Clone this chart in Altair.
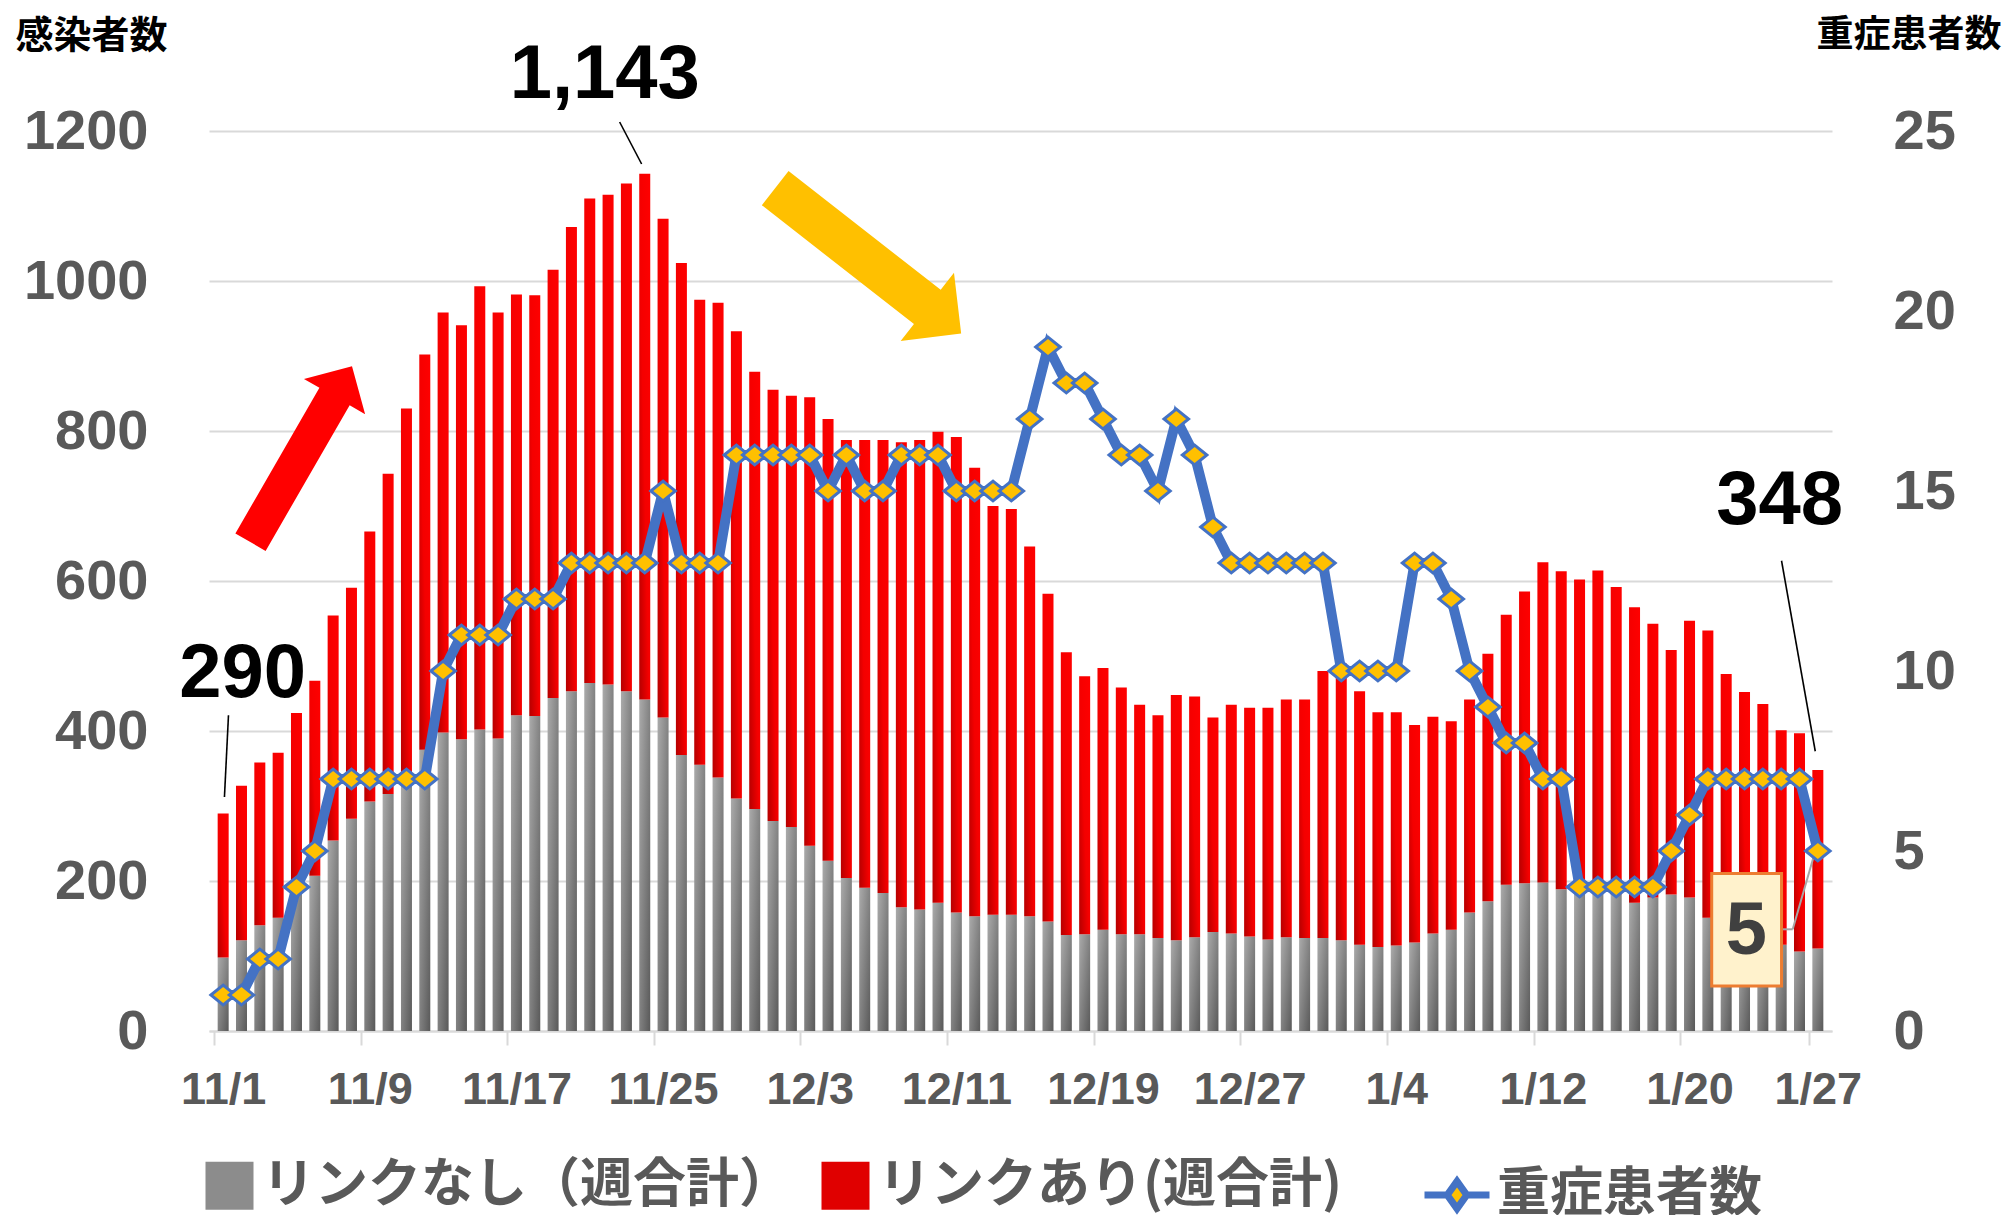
import altair as alt
import pandas as pd

# ---------------- data ----------------
dates = pd.date_range("2020-11-01", "2021-01-27", freq="D")
date_labels = [f"{d.month}/{d.day}" for d in dates]

# リンクなし (weekly total) – gray segment
no_link = [98, 121, 141, 151, 195, 207, 254, 283, 306, 316,
           330, 375, 398, 389, 402, 390, 421, 420, 444, 453,
           464, 462, 453, 442, 418, 368, 355, 338, 310, 296,
           280, 272, 247, 227, 204, 191, 184, 165, 162, 171,
           158, 153, 155, 155, 153, 146, 128, 129, 135, 129,
           129, 124, 121, 125, 132, 130, 126, 122, 125, 124,
           124, 121, 115, 112, 114, 118, 130, 135, 158, 173,
           195, 197, 198, 189, 188, 186, 182, 171, 178, 182,
           178, 151, 140, 125, 115, 115, 106, 110]

# total weekly infections (リンクなし + リンクあり)
totals = [290, 327, 358, 371, 424, 467, 554, 591, 666, 743,
          830, 902, 958, 941, 993, 958, 982, 981, 1015, 1072,
          1110, 1115, 1130, 1143, 1083, 1024, 975, 971, 933, 879,
          855, 847, 845, 816, 788, 788, 788, 785, 788, 799,
          792, 751, 700, 696, 646, 583, 505, 473, 484, 458,
          435, 421, 448, 446, 418, 435, 431, 431, 442, 442,
          480, 490, 453, 425, 425, 408, 419, 413, 442, 503,
          555, 586, 625, 613, 602, 614, 592, 565, 543, 508,
          547, 534, 476, 452, 436, 401, 397, 348]

# 重症患者数
severe = [1, 1, 2, 2, 4, 5, 7, 7, 7, 7,
          7, 7, 10, 11, 11, 11, 12, 12, 12, 13,
          13, 13, 13, 13, 15, 13, 13, 13, 16, 16,
          16, 16, 16, 15, 16, 15, 15, 16, 16, 16,
          15, 15, 15, 15, 17, 19, 18, 18, 17, 16,
          16, 15, 17, 16, 14, 13, 13, 13, 13, 13,
          13, 10, 10, 10, 10, 13, 13, 12, 10, 9,
          8, 8, 7, 7, 4, 4, 4, 4, 4, 5,
          6, 7, 7, 7, 7, 7, 7, 5]

tick_idx = [0, 8, 16, 24, 32, 40, 48, 56, 64, 72, 80, 87]
left_ticks = [0, 200, 400, 600, 800, 1000, 1200]
right_ticks = [0, 5, 10, 15, 20, 25]

bar_series = ["リンクなし（週合計）", "リンクあり(週合計)"]
line_series = ["重症患者数"]

# annotation labels (x in day-index units, y in left-axis units)
ann_text = ["290", "1,143", "348"]
ann_x = [1.06, 20.82, 84.92]
ann_y = [476, 1275, 707]

lead_x = [0.29, 21.63, 85.02]
lead_x2 = [0.07, 22.83, 86.86]
lead_y = [421, 1212, 627]
lead_y2 = [312, 1156, 373]

box_text = ["5"]
box_x, box_x2, box_y, box_y2 = [81.21], [85.02], [210], [60]
box_tx, box_ty = [83.1], [132]
box_lead_x = [85.02, 85.63]
box_lead_x2 = [85.63, 86.86]
box_lead_y = [135.6, 135.6]
box_lead_y2 = [135.6, 240]

arrow_x = [4.26, 35.19]
arrow_y = [769, 1027]
arrow_color = ["#FF0000", "#FFC000"]

df = pd.DataFrame({"i": list(range(len(date_labels))), "label": date_labels,
                   "nolink": no_link, "total": totals, "severe": severe})
df["zero"] = 0

# ---------------- styling ----------------
N = len(date_labels)
W, H = 1623, 900
px_per_day = W / N


def yls():
    return alt.Scale(domain=[0, 1200], nice=False)


def yrs():
    return alt.Scale(domain=[0, 25], nice=False)


label_expr = "timeFormat(datetime(2020, 10, 1 + datum.value), '%-m/%-d')"

x_axis = alt.Axis(values=tick_idx, labelExpr=label_expr, title=None, grid=False,
                  domainColor="#d9d9d9", domainWidth=2,
                  tickColor="#d9d9d9", tickWidth=2, tickSize=14,
                  tickOffset=-px_per_day / 2, labelOffset=px_per_day / 2,
                  labelFont="Liberation Sans", labelFontWeight="bold",
                  labelFontSize=45, labelColor="#595959", labelPadding=22,
                  labelOverlap=False, labelFlush=False)


def X(field):
    # every layer shares the same x scale and the same axis definition
    return alt.X(field, scale=alt.Scale(domain=[-0.5, N - 0.5], nice=False, zero=False),
                 axis=x_axis)


left_axis = alt.Axis(values=left_ticks, orient="left", title="感染者数", format="d",
                     grid=True, gridColor="#d9d9d9", gridWidth=2,
                     domain=False, ticks=False,
                     labelFont="Liberation Sans", labelFontWeight="bold",
                     labelFontSize=56, labelColor="#595959", labelPadding=61,
                     titleAngle=0, titleAlign="left", titleBaseline="top",
                     titleX=-194, titleY=-114, titleFont="Noto Sans CJK JP",
                     titleFontSize=38, titleFontWeight="bold", titleColor="#000000")

right_axis = alt.Axis(values=right_ticks, orient="right", title="重症患者数", format="d",
                      grid=False, domain=False, ticks=False,
                      labelFont="Liberation Sans", labelFontWeight="bold",
                      labelFontSize=56, labelColor="#595959", labelPadding=61,
                      titleAngle=0, titleAlign="left", titleBaseline="top",
                      titleX=-16, titleY=-114, titleFont="Noto Sans CJK JP",
                      titleFontSize=37, titleFontWeight="bold", titleColor="#000000")

gray_grad = alt.Gradient(gradient="linear", x1=0, y1=0, x2=1, y2=1,
                         stops=[alt.GradientStop(offset=0, color="#ababab"),
                                alt.GradientStop(offset=1, color="#595959")])
red_grad = alt.Gradient(gradient="linear", x1=1, y1=0, x2=0, y2=1,
                        stops=[alt.GradientStop(offset=0, color="#ff0000"),
                               alt.GradientStop(offset=0.55, color="#f40000"),
                               alt.GradientStop(offset=1, color="#b50000")])

base = alt.Chart(df)

gray_bars = base.mark_bar(size=11, color=gray_grad).encode(
    x=X("i:Q"),
    y=alt.Y("nolink:Q", scale=yls(), axis=left_axis),
    y2="zero:Q",
)
red_bars = base.mark_bar(size=11, color=red_grad).encode(
    x=X("i:Q"),
    y=alt.Y("nolink:Q", scale=yls(), axis=None),
    y2="total:Q",
)

arrow_df = pd.DataFrame({"x": arrow_x, "y": arrow_y})
red_arrow = alt.Chart(arrow_df.iloc[[0]]).mark_point(
    shape="M-1,-0.172L0.656,-0.172L0.656,-0.348L1,0L0.656,0.348L0.656,0.172L-1,0.172Z",
    filled=True, color=arrow_color[0], opacity=1, size=203 ** 2, angle=300, strokeWidth=0,
).encode(x=X("x:Q"), y=alt.Y("y:Q", scale=yls(), axis=None))
yel_arrow = alt.Chart(arrow_df.iloc[[1]]).mark_point(
    shape="M-1,-0.184L0.636,-0.184L0.636,-0.367L1,0L0.636,0.367L0.636,0.184L-1,0.184Z",
    filled=True, color=arrow_color[1], opacity=1, size=236 ** 2, angle=38, strokeWidth=0,
).encode(x=X("x:Q"), y=alt.Y("y:Q", scale=yls(), axis=None))

lead_df = pd.DataFrame({"x": lead_x, "x2": lead_x2, "y": lead_y, "y2": lead_y2})
leaders = alt.Chart(lead_df).mark_rule(color="#000000", strokeWidth=1.6).encode(
    x=X("x:Q"), x2="x2:Q",
    y=alt.Y("y:Q", scale=yls(), axis=None), y2="y2:Q")

ann_df = pd.DataFrame({"x": ann_x, "y": ann_y, "t": ann_text})
ann = alt.Chart(ann_df).mark_text(font="Liberation Sans", fontWeight="bold", fontSize=76,
                                  color="#000000", align="center", baseline="middle").encode(
    x=X("x:Q"), y=alt.Y("y:Q", scale=yls(), axis=None), text="t:N")

box_df = pd.DataFrame({"x": box_x, "x2": box_x2, "y": box_y, "y2": box_y2})
box = alt.Chart(box_df).mark_rect(fill="#FFF2CC", stroke="#ED7D31", strokeWidth=3).encode(
    x=X("x:Q"), x2="x2:Q",
    y=alt.Y("y:Q", scale=yls(), axis=None), y2="y2:Q")
blead_df = pd.DataFrame({"x": box_lead_x, "x2": box_lead_x2, "y": box_lead_y, "y2": box_lead_y2})
box_lead = alt.Chart(blead_df).mark_rule(color="#a6a6a6", strokeWidth=2).encode(
    x=X("x:Q"), x2="x2:Q",
    y=alt.Y("y:Q", scale=yls(), axis=None), y2="y2:Q")
btext_df = pd.DataFrame({"x": box_tx, "y": box_ty, "t": box_text})
box_txt = alt.Chart(btext_df).mark_text(font="Liberation Sans", fontWeight="bold", fontSize=74,
                                        color="#404040", align="center", baseline="middle").encode(
    x=X("x:Q"), y=alt.Y("y:Q", scale=yls(), axis=None), text="t:N")

line = base.mark_line(color="#4472C4", strokeWidth=10).encode(
    x=X("i:Q"),
    y=alt.Y("severe:Q", scale=yrs(), axis=right_axis),
)
pts = base.mark_point(shape="M-1,0L0,-0.8L1,0L0,0.8Z", filled=True, fill="#FFC000",
                      stroke="#4472C4", strokeWidth=3, size=600, opacity=1).encode(
    x=X("i:Q"),
    y=alt.Y("severe:Q", scale=yrs(), axis=None),
)

# ---------------- legends (hidden dummy marks drawn off-canvas) ----------------
leg_common = dict(title=None, orient="none", direction="horizontal",
                  labelFont="Noto Sans CJK JP", labelFontSize=53, labelFontWeight="bold",
                  labelColor="#595959", labelLimit=900)

bar_leg_df = pd.DataFrame({"series": bar_series})
bar_legend_layer = alt.Chart(bar_leg_df).mark_square(filled=True, size=2304).encode(
    x=alt.value(-5000), y=alt.value(-5000),
    color=alt.Color("series:N", sort=bar_series,
                    scale=alt.Scale(domain=bar_series, range=["#8c8c8c", "#e00000"]),
                    legend=alt.Legend(legendX=-6, legendY=1028, symbolType="square",
                                      symbolSize=2304, symbolStrokeWidth=0, symbolOpacity=1,
                                      labelOffset=6, columnPadding=27, **leg_common)))

LINE_SYM = "M-1,0L-0.3,0M0.3,0L1,0M0,-0.42L0.3,0L0,0.42L-0.3,0Z"

line_leg_df = pd.DataFrame({"series": line_series})
line_legend_layer = alt.Chart(line_leg_df).mark_point(
    filled=False, shape=LINE_SYM, strokeWidth=7, size=4225).encode(
    x=alt.value(-5000), y=alt.value(-5000),
    stroke=alt.Stroke("series:N",
                      scale=alt.Scale(domain=line_series, range=["#4472C4"]),
                      legend=alt.Legend(legendX=1212, legendY=1028, symbolType=LINE_SYM,
                                        symbolSize=4225, symbolStrokeWidth=7, symbolOpacity=1,
                                        labelOffset=4, **leg_common)))
diamond_legend_layer = alt.Chart(line_leg_df).mark_point(
    filled=True, shape=LINE_SYM, size=4225, strokeWidth=0).encode(
    x=alt.value(-5000), y=alt.value(-5000),
    fill=alt.Fill("series:N",
                  scale=alt.Scale(domain=line_series, range=["#FFC000"]),
                  legend=alt.Legend(legendX=1212, legendY=1028, symbolType=LINE_SYM,
                                    symbolSize=4225, symbolStrokeWidth=7, symbolOpacity=1,
                                    labelOffset=4, **leg_common)))

chart = alt.layer(
    gray_bars, red_bars, red_arrow, yel_arrow, leaders, ann, box_lead, box, box_txt,
    line, pts, bar_legend_layer, line_legend_layer, diamond_legend_layer,
).resolve_scale(y="independent").properties(
    width=W, height=H,
    autosize=alt.AutoSizeParams(type="none"),
    padding={"left": 201, "top": 123, "right": 170, "bottom": 184},
).configure_view(stroke=None)

chart.save("out.html", embed_options={"renderer": "svg", "actions": False})
